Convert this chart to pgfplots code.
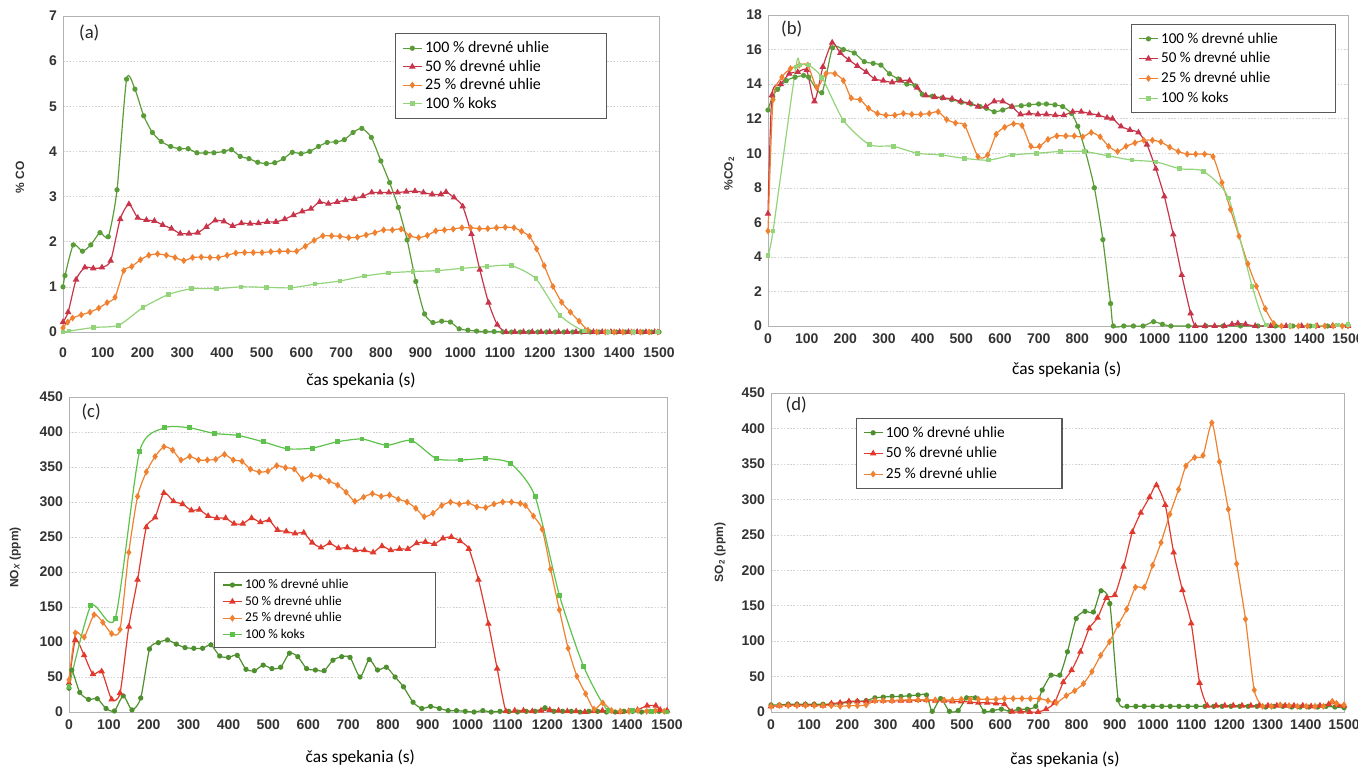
\documentclass[border=0pt]{standalone}
\usepackage{fontspec}
\setmainfont{Carlito}
\newfontfamily\arialf{Liberation Sans}
\usepackage{pgfplots}
\pgfplotsset{compat=1.18}
\definecolor{dgA}{HTML}{5A9C38}
\definecolor{crA}{HTML}{C8354B}
\definecolor{orA}{HTML}{EF8130}
\definecolor{lgA}{HTML}{93D47A}
\definecolor{dgC}{HTML}{4E8F2E}
\definecolor{rdC}{HTML}{E03A2E}
\definecolor{kgC}{HTML}{5DC24B}
\pgfplotsset{
 panel/.style={
  scale only axis, anchor=south west,
  xmin=0,xmax=1500, xtick={0,100,...,1500},
  axis line style={gray!60},
  tick style={draw=none},
  ymajorgrids, major grid style={gray!35, dash pattern=on 1.2pt off 1.2pt},
  ticklabel style={font=\arialf\bfseries\fontsize{10.5}{12}\selectfont, text=black!80},
  /pgf/number format/assume math mode=true,
  /pgf/number format/1000 sep={},
  xticklabel style={yshift=-2pt},
  yticklabel style={xshift=-1pt},
  clip=false,
  every axis plot/.append style={line width=0.9pt, smooth, tension=0.4, mark options={solid}},
  legend cell align=left,
  legend image code/.code={\draw[mark repeat=2,mark phase=2,#1] plot coordinates {(0cm,0cm) (0.25cm,0cm) (0.5cm,0cm)};},
  xlabel style={font=\fontsize{13}{15}\selectfont, anchor=center},
  ylabel style={font=\arialf\bfseries\fontsize{9}{11}\selectfont, text=black!80, anchor=center},
  xlabel={čas spekania (s)},
 },
 sA/.style={color=dgA, mark=*, mark size=1.5pt},
 sB/.style={color=crA, mark=triangle*, mark size=2pt},
 sC/.style={color=orA, mark=diamond*, mark size=1.9pt},
 sD/.style={color=lgA, mark=square*, mark size=1.3pt},
 tA/.style={color=dgC, mark=*, mark size=1.5pt},
 tB/.style={color=rdC, mark=triangle*, mark size=2pt},
 tD/.style={color=kgC, mark=square*, mark size=1.4pt},
}
\begin{document}
\begin{tikzpicture}
\path[use as bounding box] (0,0) rectangle (1018.5pt,-578.25pt);
% ---------------- (a)
\begin{axis}[panel, at={(47.25pt,-249pt)}, width=447pt, height=237pt,
  ymin=0, ymax=7, ytick={0,...,7},
  xticklabel style={yshift=-6pt},
  ylabel={\% CO},
  xlabel style={at={(axis description cs:0.5,-0.155)}},
  ylabel style={at={(axis description cs:-0.072,0.49)}},
  legend style={at={(0.557,0.946)}, anchor=north west, draw=gray!70!black, line width=0.9pt,
    font=\fontsize{12}{14}\selectfont, row sep=0pt, inner xsep=5pt, inner ysep=4pt}]
\addplot[sA] coordinates {(0,1.0)(5,1.25)(26,1.93)(49,1.79)(70,1.93)(93,2.2)(114,2.11)(136,3.15)(160,5.6)(181,5.38)(203,4.79)(225,4.42)(247,4.22)(271,4.11)(293,4.06)(315,4.06)(337,3.97)(359,3.97)(380,3.97)(405,4.0)(424,4.04)(446,3.89)(468,3.84)(490,3.76)(512,3.73)(533,3.75)(555,3.84)(577,3.98)(599,3.95)(621,4.0)(643,4.11)(665,4.2)(687,4.21)(708,4.26)(730,4.42)(752,4.51)(776,4.31)(800,3.79)(822,3.31)(844,2.76)(866,2.04)(888,1.12)(910,0.40)(931,0.21)(953,0.24)(975,0.22)(997,0.07)(1019,0.04)(1041,0.02)(1063,0.01)(1085,0.01)(1107,0)(1129,0)(1151,0)(1173,0)(1195,0)(1217,0)(1239,0)(1261,0)(1283,0)(1305,0)(1327,0)(1349,0)(1371,0)(1393,0)(1415,0)(1437,0)(1459,0)(1481,0)(1500,0)};
\addlegendentry{\makebox[129pt][l]{100 \% drevné uhlie}}
\addplot[sB] coordinates {(0,0.22)(13,0.44)(33,1.16)(55,1.43)(76,1.41)(98,1.43)(120,1.58)(144,2.5)(166,2.83)(188,2.53)(210,2.48)(230,2.46)(251,2.37)(273,2.29)(295,2.18)(317,2.18)(339,2.2)(361,2.33)(383,2.47)(405,2.45)(427,2.35)(449,2.41)(471,2.4)(492,2.41)(514,2.44)(536,2.44)(558,2.5)(580,2.59)(602,2.67)(624,2.73)(646,2.88)(668,2.84)(690,2.88)(711,2.92)(733,2.95)(755,3.01)(777,3.09)(798,3.09)(820,3.09)(842,3.09)(864,3.11)(886,3.12)(907,3.09)(929,3.05)(951,3.05)(964,3.1)(984,2.98)(1006,2.78)(1028,2.17)(1049,1.38)(1071,0.65)(1093,0.16)(1115,0)(1137,0)(1159,0)(1181,0)(1203,0)(1225,0)(1247,0)(1269,0)(1291,0)(1313,0)(1335,0)(1357,0)(1379,0)(1401,0)(1423,0)(1445,0)(1467,0)(1489,0)};
\addlegendentry{50 \% drevné uhlie}
\addplot[sC] coordinates {(0,0.09)(12,0.22)(24,0.31)(46,0.38)(68,0.44)(90,0.53)(111,0.65)(131,0.77)(153,1.36)(173,1.45)(195,1.6)(216,1.7)(238,1.73)(260,1.7)(282,1.65)(304,1.58)(326,1.65)(348,1.66)(370,1.65)(391,1.65)(413,1.7)(435,1.75)(457,1.76)(479,1.76)(501,1.76)(523,1.78)(545,1.79)(566,1.79)(588,1.79)(610,1.9)(632,2.03)(654,2.13)(676,2.13)(697,2.12)(719,2.09)(741,2.1)(763,2.15)(785,2.2)(807,2.26)(829,2.26)(851,2.28)(873,2.13)(895,2.09)(917,2.14)(938,2.24)(960,2.26)(982,2.28)(1004,2.31)(1026,2.31)(1048,2.29)(1069,2.29)(1091,2.31)(1113,2.32)(1135,2.31)(1154,2.23)(1174,2.12)(1192,1.84)(1211,1.47)(1233,1.01)(1255,0.66)(1277,0.44)(1299,0.24)(1321,0.04)(1343,0)(1365,0)(1387,0)(1409,0)(1431,0)(1453,0)(1475,0)(1497,0)};
\addlegendentry{25 \% drevné uhlie}
\addplot[sD] coordinates {(0,0.0)(15,0.02)(77,0.1)(140,0.15)(201,0.54)(265,0.83)(324,0.96)(387,0.96)(448,1.0)(512,0.99)(573,0.98)(634,1.06)(697,1.13)(759,1.24)(820,1.31)(881,1.34)(943,1.36)(1004,1.41)(1067,1.45)(1128,1.47)(1190,1.18)(1251,0.37)(1312,0.02)(1373,0)(1435,0)(1497,0)};
\addlegendentry{100 \% koks}
\node[font=\fontsize{14}{16}\selectfont, text=black!85] at (rel axis cs:0.044,0.946) {(a)};
\end{axis}
% ---------------- (b)
\begin{axis}[panel, at={(576pt,-244.5pt)}, width=435pt, height=233.25pt,
  ymin=0, ymax=18, ytick={0,2,...,18},
  ylabel={\%CO\textsubscript{2}},
  xlabel style={at={(axis description cs:0.515,-0.141)}},
  ylabel style={at={(axis description cs:-0.067,0.49)}},
  legend style={at={(0.626,0.971)}, anchor=north west, draw=gray!70!black, line width=0.9pt,
    font=\fontsize{11.3}{13}\selectfont, row sep=1.5pt, inner xsep=5pt, inner ysep=4pt}]
\addplot[sA] coordinates {(0,12.5)(12,13.3)(25,13.7)(47,14.2)(70,14.4)(92,14.5)(105,14.4)(139,13.5)(167,16.1)(195,16.0)(223,15.8)(249,15.3)(272,15.2)(292,15.1)(314,14.6)(337,14.3)(359,14.0)(381,13.9)(399,13.4)(425,13.3)(450,13.2)(475,13.1)(500,12.95)(525,12.85)(548,12.7)(565,12.6)(585,12.4)(607,12.5)(630,12.7)(655,12.75)(675,12.8)(700,12.85)(720,12.85)(742,12.8)(762,12.7)(785,12.3)(801,11.56)(821,10.1)(844,8.0)(866,5.0)(886,1.3)(893,0)(920,0)(945,0)(970,0)(997,0.25)(1020,0.1)(1042,0)(1087,0)(1132,0)(1177,0)(1222,0)(1267,0)(1312,0)(1357,0)(1402,0)(1447,0)(1500,0.05)};
\addlegendentry{\makebox[124pt][l]{100 \% drevné uhlie}}
\addplot[sB] coordinates {(0,6.5)(10,13.35)(33,14.0)(55,14.6)(77,14.7)(100,14.8)(120,13.0)(142,15.0)(166,16.4)(187,15.8)(209,15.4)(231,15.05)(254,14.7)(276,14.3)(298,14.2)(321,14.1)(343,14.2)(366,14.2)(386,13.8)(408,13.35)(431,13.25)(453,13.2)(476,13.15)(498,13.0)(521,12.9)(543,12.7)(563,12.7)(585,13.0)(607,13.0)(631,12.7)(653,12.25)(675,12.3)(698,12.25)(720,12.25)(743,12.2)(765,12.2)(788,12.4)(810,12.4)(832,12.3)(855,12.2)(877,12.05)(891,12.0)(913,11.55)(936,11.35)(958,11.2)(980,10.5)(1003,9.1)(1025,7.5)(1048,5.3)(1070,2.95)(1093,0.73)(1105,0)(1130,0)(1155,0)(1180,0)(1200,0.1)(1215,0.15)(1235,0.1)(1260,0)(1300,0)(1340,0)(1380,0)(1420,0)(1460,0)(1500,0)};
\addlegendentry{50 \% drevné uhlie}
\addplot[sC] coordinates {(0,5.5)(13,13.1)(36,14.4)(58,14.9)(81,15.1)(103,15.1)(126,13.8)(150,14.6)(173,14.6)(195,14.2)(215,13.2)(238,13.1)(260,12.6)(283,12.3)(305,12.2)(328,12.2)(350,12.3)(372,12.25)(395,12.25)(417,12.3)(440,12.4)(462,11.95)(485,11.75)(509,11.6)(543,9.8)(568,9.9)(590,11.1)(612,11.5)(635,11.7)(657,11.6)(680,10.4)(702,10.4)(724,10.8)(747,11.0)(770,11.0)(792,11.0)(814,10.95)(836,11.2)(859,10.95)(881,10.4)(904,10.1)(926,10.4)(949,10.6)(972,10.75)(994,10.75)(1016,10.65)(1039,10.35)(1061,10.1)(1084,9.95)(1106,9.95)(1129,9.95)(1151,9.8)(1174,8.3)(1196,6.75)(1218,5.2)(1241,3.6)(1263,2.3)(1286,1.0)(1308,0.15)(1328,0)(1350,0)(1372,0)(1395,0)(1417,0)(1440,0)(1462,0)(1485,0)(1500,0)};
\addlegendentry{25 \% drevné uhlie}
\addplot[sD] coordinates {(0,4.1)(13,5.5)(72,15.0)(83,15.1)(105,15.1)(139,14.4)(195,11.9)(262,10.5)(324,10.4)(386,10.0)(448,9.9)(509,9.7)(571,9.6)(633,9.9)(694,10.0)(756,10.1)(818,10.1)(880,9.85)(941,9.6)(1003,9.5)(1065,9.1)(1126,8.95)(1191,7.4)(1252,2.3)(1289,0.05)(1350,0)(1412,0)(1473,0.05)(1500,0.1)};
\addlegendentry{100 \% koks}
\node[font=\fontsize{14}{16}\selectfont, text=black!85] at (rel axis cs:0.041,0.955) {(b)};
\end{axis}
% ---------------- (c)
\begin{axis}[panel, at={(51.75pt,-534pt)}, width=448.5pt, height=236.25pt,
  ymin=0, ymax=450, ytick={0,50,...,450},
  ylabel={NO\textsubscript{\itshape X} (ppm)},
  xlabel style={at={(axis description cs:0.487,-0.143)}},
  ylabel style={at={(axis description cs:-0.09,0.49)}},
  legend style={at={(0.242,0.444)}, anchor=north west, draw=gray!70!black, line width=0.9pt,
    font=\fontsize{10}{12}\selectfont, row sep=0pt, inner xsep=6pt, inner ysep=3pt}]
\addplot[tA] coordinates {(0,34)(7,60)(27,28)(49,18)(71,19)(93,5)(114,1.5)(136,23)(158,3)(180,20)(202,90)(224,99)(247,103)(269,97)(291,92)(313,91)(335,91)(356,96)(378,80)(400,78)(422,81)(444,61)(465,59)(487,67)(509,62)(531,64)(553,84)(574,79)(596,62)(618,60)(640,59)(662,74)(684,79)(705,78)(730,50)(753,75)(774,60)(796,64)(818,50)(839,36)(863,14)(885,5)(907,8)(929,5)(951,2)(972,2)(994,1)(1016,0)(1038,2)(1059,0)(1081,1)(1103,1)(1125,0)(1147,1)(1169,1)(1194,6)(1216,1)(1238,1)(1260,1)(1282,0)(1304,1)(1326,1)(1348,0)(1370,0)(1392,1)(1414,1)(1436,0)(1458,1)(1480,1)(1500,1)};
\addlegendentry{\makebox[135pt][l]{100 \% drevné uhlie}}
\addplot[tB] coordinates {(0,41)(16,103)(38,81)(60,54)(82,58)(107,18)(128,27)(150,122)(172,189)(194,264)(216,278)(238,313)(262,301)(285,297)(307,288)(327,289)(349,280)(371,277)(393,277)(414,269)(436,269)(458,277)(480,271)(502,274)(523,260)(545,258)(567,255)(589,256)(610,242)(632,235)(654,241)(676,234)(698,235)(719,231)(741,231)(763,228)(785,237)(807,231)(829,233)(850,233)(872,241)(894,243)(916,240)(938,248)(959,250)(981,244)(1003,233)(1027,189)(1052,126)(1074,62)(1096,1)(1118,2)(1140,2)(1162,1)(1184,2)(1206,3)(1228,2)(1250,1)(1272,1)(1294,0)(1316,1)(1338,2)(1360,1)(1382,0)(1404,1)(1426,3)(1450,9)(1472,9)(1483,3)(1500,2)};
\addlegendentry{50 \% drevné uhlie}
\addplot[sC] coordinates {(0,46)(16,113)(38,107)(63,139)(85,128)(107,112)(128,118)(150,228)(172,308)(194,343)(216,365)(238,379)(260,374)(281,360)(303,365)(325,360)(347,360)(368,361)(390,368)(412,360)(434,358)(455,347)(477,343)(499,344)(521,352)(543,349)(565,347)(586,333)(608,338)(630,336)(652,330)(674,324)(695,314)(717,301)(739,307)(761,312)(783,308)(804,310)(826,304)(848,300)(870,291)(891,279)(913,284)(935,295)(957,300)(979,297)(1001,299)(1023,293)(1045,292)(1066,297)(1088,300)(1110,300)(1132,298)(1145,295)(1165,280)(1187,261)(1208,204)(1230,146)(1252,91)(1274,51)(1296,26)(1317,4)(1339,13)(1361,2)(1383,1)(1405,1)(1427,2)(1449,1)(1471,2)(1493,1)};
\addlegendentry{25 \% drevné uhlie}
\addplot[tD] coordinates {(0,36)(55,152)(116,134)(177,372)(240,406)(302,406)(364,398)(425,395)(487,386)(548,376)(610,377)(673,386)(735,390)(797,381)(859,388)(921,362)(983,360)(1045,362)(1108,355)(1169,308)(1230,167)(1291,65)(1352,2)(1413,2)(1461,0.5)(1500,0)};
\addlegendentry{100 \% koks}
\node[font=\fontsize{14}{16}\selectfont, text=black!85] at (rel axis cs:0.037,0.952) {(c)};
\end{axis}
% ---------------- (d)
\begin{axis}[panel, at={(578.25pt,-534pt)}, width=429.75pt, height=239.25pt,
  ymin=0, ymax=450, ytick={0,50,...,450},
  ylabel={SO\textsubscript{2} (ppm)},
  xlabel style={at={(axis description cs:0.513,-0.15)}},
  ylabel style={at={(axis description cs:-0.089,0.5)}},
  legend style={at={(0.148,0.922)}, anchor=north west, draw=gray!70!black, line width=0.9pt,
    font=\fontsize{11.5}{13}\selectfont, row sep=2pt, inner xsep=5pt, inner ysep=4pt}]
\addplot[tA] coordinates {(0,10)(22,10)(45,11)(68,11)(90,11)(113,11)(136,11)(158,11)(181,12)(204,14)(226,15)(249,16)(272,20)(294,21)(317,22)(340,22)(362,23)(385,24)(407,24)(422,1)(444,19)(467,1)(490,2)(512,20)(535,20)(558,1)(580,2)(603,4)(626,1)(648,4)(671,4)(693,8)(710,31)(733,52)(756,52)(776,85)(799,132)(822,142)(844,141)(864,171)(887,153)(909,17)(932,8)(955,8)(977,8)(1000,8)(1023,8)(1045,8)(1068,8)(1091,8)(1113,8)(1136,8)(1159,8)(1181,8)(1204,8)(1227,8)(1249,8)(1272,8)(1295,7)(1317,8)(1340,8)(1363,7)(1385,7)(1408,7)(1431,7)(1453,8)(1476,7)(1500,6)};
\addlegendentry{\makebox[125pt][l]{100 \% drevné uhlie}}
\addplot[tB] coordinates {(0,8)(22,9)(45,10)(68,10)(90,10)(113,10)(136,9)(158,12)(181,13)(204,15)(226,15)(249,15)(272,16)(294,16)(317,16)(340,16)(362,16)(385,17)(407,17)(430,16)(453,16)(475,15)(498,15)(521,14)(543,13)(566,13)(589,12)(611,11)(631,0.5)(654,0.5)(677,0)(699,0)(720,4)(742,13)(765,42)(787,59)(810,85)(833,118)(855,133)(878,161)(900,165)(923,205)(946,254)(968,281)(991,303)(1009,320)(1032,292)(1054,225)(1077,172)(1100,125)(1122,41)(1142,9)(1165,9)(1188,9)(1210,9)(1233,9)(1256,9)(1278,9)(1301,9)(1324,9)(1346,9)(1369,9)(1392,9)(1414,8)(1437,9)(1460,11)(1470,14)(1483,10)(1500,9)};
\addlegendentry{50 \% drevné uhlie}
\addplot[sC] coordinates {(0,8)(22,9)(45,9)(68,9)(90,9)(113,9)(136,9)(158,9)(181,8)(204,9)(226,9)(249,10)(272,16)(294,16)(317,16)(340,17)(362,17)(385,17)(407,17)(430,17)(453,17)(475,17)(498,18)(521,18)(543,18)(566,18)(589,18)(611,19)(634,19)(657,19)(679,19)(702,19)(725,16)(747,13)(773,23)(795,30)(818,40)(840,57)(863,80)(886,99)(909,123)(931,145)(954,176)(977,176)(999,207)(1021,239)(1044,279)(1067,314)(1086,347)(1109,359)(1131,362)(1154,408)(1174,353)(1197,286)(1219,209)(1242,131)(1265,31)(1287,8)(1310,8)(1333,10)(1356,9)(1378,8)(1401,8)(1424,8)(1446,8)(1469,15)(1480,12)(1500,10)};
\addlegendentry{25 \% drevné uhlie}
\node[font=\fontsize{14}{16}\selectfont, text=black!85] at (rel axis cs:0.044,0.962) {(d)};
\end{axis}
\end{tikzpicture}
\end{document}
